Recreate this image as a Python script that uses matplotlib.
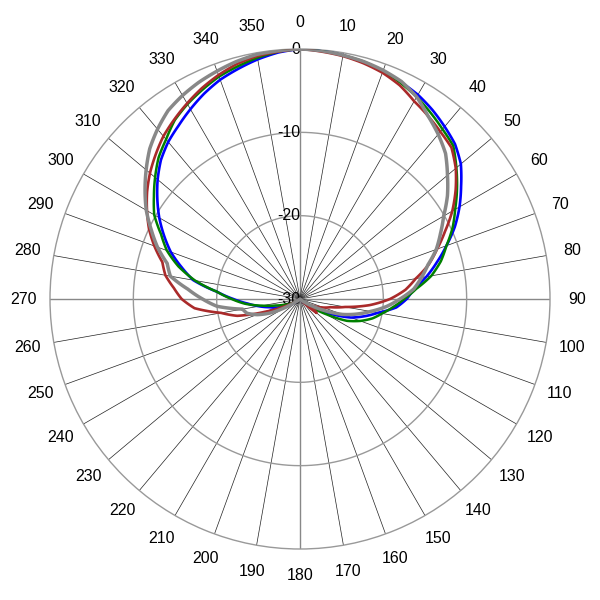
import numpy as np
import matplotlib
matplotlib.use("Agg")
import matplotlib.pyplot as plt

plt.rcParams["font.family"] = ["Liberation Sans", "DejaVu Sans"]

# angles in degrees, step 5
angles = np.arange(0, 360, 5)
center_run = [-30.0] * 19  # 135..225 deg, all at the centre

blue = ([0, -0.1, -0.3, -0.6, -0.9, -1.3, -1.7, -2.3, -3.0, -3.7, -4.8, -6.4, -7.9, -9.5,
         -11.3, -13.0, -14.6, -16.3, -17.2, -18.4, -20.5, -22.0, -23.5, -25.6, -27.2, -28.2, -29.0]
        + center_run
        + [-30.0, -29.3, -28.5, -27.7, -27.0, -26.2, -25.0, -23.7, -22.0, -20.0, -17.0, -15.3, -13.5,
           -12.0, -10.5, -9.1, -7.7, -6.4, -5.4, -4.6, -3.7, -2.8, -2.0, -1.4, -0.8, -0.3])

green = ([0, -0.1, -0.3, -0.5, -0.9, -1.4, -2.0, -2.7, -3.4, -4.0, -5.5, -7.0, -8.5, -9.8,
          -11.3, -12.5, -14.0, -16.0, -17.5, -18.8, -20.0, -21.0, -22.3, -23.8, -26.3, -28.2, -29.3]
         + center_run
         + [-30.0, -29.5, -29.0, -28.5, -28.0, -27.0, -25.4, -23.4, -21.8, -20.0, -17.2, -14.9, -13.0,
            -11.6, -9.8, -8.6, -7.3, -6.0, -5.0, -3.8, -3.0, -2.3, -1.6, -1.1, -0.6, -0.2])

red = ([0, -0.2, -0.4, -0.7, -1.1, -1.7, -2.6, -3.2, -3.8, -4.3, -5.6, -7.2, -8.9, -10.8,
        -12.5, -14.0, -15.9, -17.3, -19.2, -21.6, -24.5, -26.2, -27.0, -27.8, -28.5, -28.2, -27.4]
       + center_run
       + [-30.0, -29.6, -29.0, -27.8, -25.5, -22.2, -20.4, -17.3, -15.8, -14.8, -13.6, -12.9, -11.4,
          -10.0, -8.8, -7.6, -6.5, -5.5, -4.5, -3.7, -2.9, -2.1, -1.4, -0.8, -0.4, -0.2])

gray = ([0, -0.1, -0.3, -0.5, -0.8, -1.2, -2.0, -3.2, -4.2, -5.3, -6.9, -8.4, -10.1, -11.4,
         -12.6, -14.1, -15.2, -16.3, -18.0, -19.6, -21.4, -23.0, -24.6, -26.7, -28.3, -29.3, -30.0]
        + center_run
        + [-30.0, -29.5, -28.0, -26.0, -24.5, -23.4, -23.0, -20.0, -18.3, -16.5, -14.2, -13.5, -11.8,
           -10.3, -8.7, -7.3, -5.9, -4.5, -3.4, -2.4, -1.8, -1.3, -0.9, -0.5, -0.2, -0.1])

ring_values = [-20, -10]
ring_labels = ["0", "-10", "-20", "-30"]
label_angles = np.arange(0, 360, 10)

fig = plt.figure(figsize=(6, 6), dpi=100)
ax = fig.add_axes([50 / 600, 51 / 600, 500 / 600, 500 / 600], projection="polar")
ax.set_theta_zero_location("N")
ax.set_theta_direction(-1)
ax.set_ylim(-30, 0)
ax.grid(False)
ax.set_xticks([])
ax.set_yticks([])
ax.spines["polar"].set_color("#999999")
ax.spines["polar"].set_linewidth(1.0)

# spokes
for a in label_angles:
    t = np.deg2rad(a)
    if a % 90 == 0:
        ax.plot([t, t], [-30, 0], color="#888888", lw=1.0, zorder=1)
    else:
        ax.plot([t, t], [-30, 0], color="#222222", lw=0.5, zorder=1)

# rings
circ = np.linspace(0, 2 * np.pi, 361)
for rv in ring_values:
    ax.plot(circ, [rv] * len(circ), color="#999999", lw=1.0, zorder=1)

# radial labels
for lab in ring_labels:
    ax.text(0, float(lab), lab, ha="right", va="center", fontsize=11.5, color="black", zorder=2)

# angle labels
for a in label_angles:
    ax.text(np.deg2rad(a), 3.2, str(a), ha="center", va="center", fontsize=11.5, clip_on=False)

theta = np.deg2rad(np.append(angles, 360))
for series, col, lw in [(blue, "#0000ff", 1.9), (green, "#008000", 1.8),
                        (red, "#aa2a2a", 1.9), (gray, "#888888", 2.5)]:
    line, = ax.plot(theta, series + [series[0]], color=col, lw=lw, zorder=3,
                    solid_joinstyle="round")
    # draw segments as arcs in polar space instead of straight chords
    line.get_path()._interpolation_steps = 10

fig.savefig("out.png", dpi=100)
